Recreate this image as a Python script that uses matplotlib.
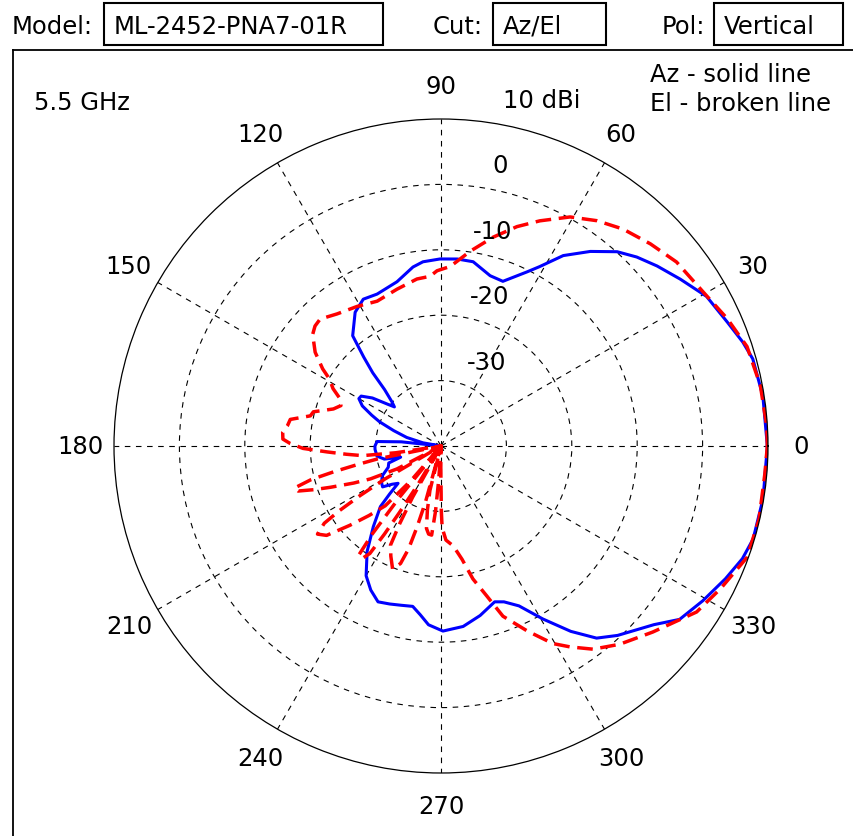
import numpy as np
import matplotlib.pyplot as plt
from matplotlib.patches import Rectangle
from matplotlib.lines import Line2D

plt.rcParams['font.family'] = ['DejaVu Sans']

# header fields
model = "ML-2452-PNA7-01R"
cut = "Az/El"
pol = "Vertical"
freq = "5.5 GHz"

# Az cut (solid), angle in degrees, gain in dBi
az_deg = [0, 8.8, 15.6, 19, 23.4, 29.4, 34.9, 39.8, 44, 47.8, 52.5, 57.3, 61.2, 63.7,
          69.4, 73.9, 80.1, 85, 90.3, 95.6, 98.9, 105, 112.8, 117.9, 122.7, 128.7, 131,
          133, 135, 138, 140, 142, 145, 148, 150, 153, 156, 158.5, 162, 166, 170, 172,
          174, 176, 180, 183, 189, 193, 195.5, 198, 202, 207, 212, 215, 218, 221, 223,
          225, 230, 235, 240, 244, 248, 252, 256, 260, 263, 266, 270.6, 277, 283, 289,
          292, 296, 300.5, 305, 309, 313, 320, 324, 329.4, 335, 339.5, 343.4, 350.7, 360]
az_db = [9.9, 9.8, 9.5, 8.8, 7.7, 6.6, 4.6, 3.0, 1.6, 0.1, -2.5, -5.4, -8.7, -10.3,
         -13.1, -12.9, -11.4, -11.3, -11.4, -11.7, -12.3, -14.0, -14.8, -14.6, -15.7, -18.4, -22.0,
         -24.7, -27.8, -29.9, -30.7, -29.6, -27.2, -25.6, -25.5, -26.5, -28.4, -29.9, -32.4, -34.6, -37.2, -40,
         -33.9, -30.2, -29.9, -29.9, -30.1, -31.1, -33.6, -31.6, -31.3, -29.9, -29.3, -29.1, -30.5, -31.3, -29.3,
         -26.9, -23.9, -20.3, -17.1, -15.5, -14.3, -14.6, -14.9, -15.1, -14.0, -12.6, -11.7, -12.2, -13.4, -14.8,
         -14.3, -12.8, -9.3, -5.4, -2.2, -0.4, 2.5, 5.1, 6.5, 8.0, 9.2, 9.8, 9.9, 9.9]

# El cut (broken)
el_deg = [0, 3.5, 10.7, 18, 24, 30.4, 38, 44, 50, 55.3, 60.6, 66.3, 70.9, 76, 81.5, 87,
          91.3, 93.7, 98.2, 105.7, 113.8, 121, 128.2, 133.6, 136.4, 139, 143.3, 146.9, 149,
          152, 155, 158, 161, 165, 167, 170, 172.6, 175, 177.5, 179, 181, 183, 185, 187,
          188.5, 190, 191.5, 192.5, 193.5, 194.5, 196, 197.5, 199, 200.5, 203, 205, 207.5, 209,
          210.5, 211.5, 212.5, 213.5, 215.5, 218, 221, 224, 227, 229, 230,
          231, 232, 233, 235, 236.5, 237.3, 238, 239, 240,
          241, 242, 243, 245.5, 248.5, 251, 252.5, 253.5, 254.5, 255.2,
          256, 258, 260, 262, 264, 265.2, 266.2, 267,
          268, 269.5, 270.3, 270.8, 273, 277, 280.5, 283.5, 287, 290, 295,
          299.5, 302.7, 306.8, 312, 318.7, 327, 333, 340, 347, 355, 360]
el_db = [9.9, 9.9, 9.7, 9.2, 7.9, 6.5, 5.7, 4.5, 3.3, 1.9, 0.2, -2.4, -4.5, -7.1, -9.9, -12.5,
         -13.2, -14.0, -14.2, -15.1, -15.8, -15.1, -14.3, -13.2, -13.4, -14.0, -16.0, -18.4, -20.1,
         -21.3, -23.0, -23.5, -22.6, -19.8, -19.5, -16.6, -16.3, -15.7, -15.8, -16.9, -18.9, -22.6, -25.5, -27.9,
         -33.0, -40, -30.1, -27.0, -23.2, -19.5, -16.7, -17.1, -19.5, -22.0, -25.5, -28.1, -32.4, -40,
         -30.0, -25.5, -21.5, -18.6, -16.8, -17.8, -21.5, -24.7, -27.5, -33.0, -40,
         -30.0, -23.0, -19.1, -19.0, -20.3, -24.0, -28.0, -33.0, -40,
         -31.0, -26.5, -23.0, -21.5, -19.8, -21.0, -23.5, -27.0, -31.0, -40,
         -33.0, -30.0, -27.2, -26.4, -26.3, -30.0, -35.0, -40,
         -40, -36.6, -30.0, -27.5, -25.6, -24.6, -22.4, -19.1, -16.0, -12.3, -8.8,
         -5.3, -3.5, -1.2, 0.8, 3.1, 6.6, 8.0, 9.8, 9.9, 9.7, 9.9]

rings = [-30, -20, -10, 0]
spokes = list(range(0, 360, 30))
rmin, rmax = -40, 10

W, H = 854, 837
fig = plt.figure(figsize=(W / 100, H / 100), dpi=100)


def fx(px):
    return px / W


def fy(py):
    return 1 - py / H


# header
fs = 17.5
fig.text(fx(12), fy(27), "Model:", fontsize=fs, va='center')
fig.text(fx(433), fy(27), "Cut:", fontsize=fs, va='center')
fig.text(fx(662), fy(27), "Pol:", fontsize=fs, va='center')
for (x0, x1), txt in zip([(104, 383), (493, 606), (714, 843)], [model, cut, pol]):
    fig.add_artist(Rectangle((fx(x0), fy(46)), (x1 - x0) / W, 42 / H, transform=fig.transFigure,
                             fill=False, ec='black', lw=1.5))
    fig.text(fx(x0 + 10), fy(27), txt, fontsize=fs, va='center')

# frame around the plot area
fig.add_artist(Line2D([fx(13), 1], [fy(51), fy(51)], transform=fig.transFigure, color='black', lw=1.3))
fig.add_artist(Line2D([fx(13), fx(13)], [fy(51), 0], transform=fig.transFigure, color='black', lw=1.3))

cx, cy, R = 441, 447, 327
ax = fig.add_axes([fx(cx - R), fy(cy + R), 2 * R / W, 2 * R / H], projection='polar')
ax.set_theta_zero_location('E')
ax.set_ylim(rmin, rmax)
ax.set_yticks(rings)
ax.set_yticklabels([])
ax.set_xticks(np.deg2rad(spokes))
ax.set_xticklabels([])
ax.grid(True, color='black', linestyle=(0, (5, 5)), linewidth=0.8)
ax.spines['polar'].set_linewidth(0.9)

ax.plot(np.deg2rad(az_deg), np.maximum(az_db, rmin), color='#0000ff', lw=2.2)
ax.plot(np.deg2rad(el_deg), np.maximum(el_db, rmin), color='#ff0000', lw=2.5, linestyle=(0, (4.5, 2.2)))

for a in spokes:
    ax.text(np.deg2rad(a), 15.1, str(a), fontsize=fs, ha='center', va='center', clip_on=False)

ring_lab = [(10, "10 dBi", 101), (0, "0", 59), (-10, "-10", 52), (-20, "-20", 49), (-30, "-30", 46)]
for r, lab, dx in ring_lab:
    ax.annotate(lab, xy=(np.pi / 2, r), xytext=(dx, 19), textcoords='offset pixels',
                fontsize=fs, ha='center', va='center')

fig.text(fx(34), fy(103), freq, fontsize=fs, va='center')
fig.text(fx(650), fy(75), "Az - solid line", fontsize=fs, va='center')
fig.text(fx(650), fy(104), "El - broken line", fontsize=fs, va='center')

fig.savefig("out.png", dpi=100)
